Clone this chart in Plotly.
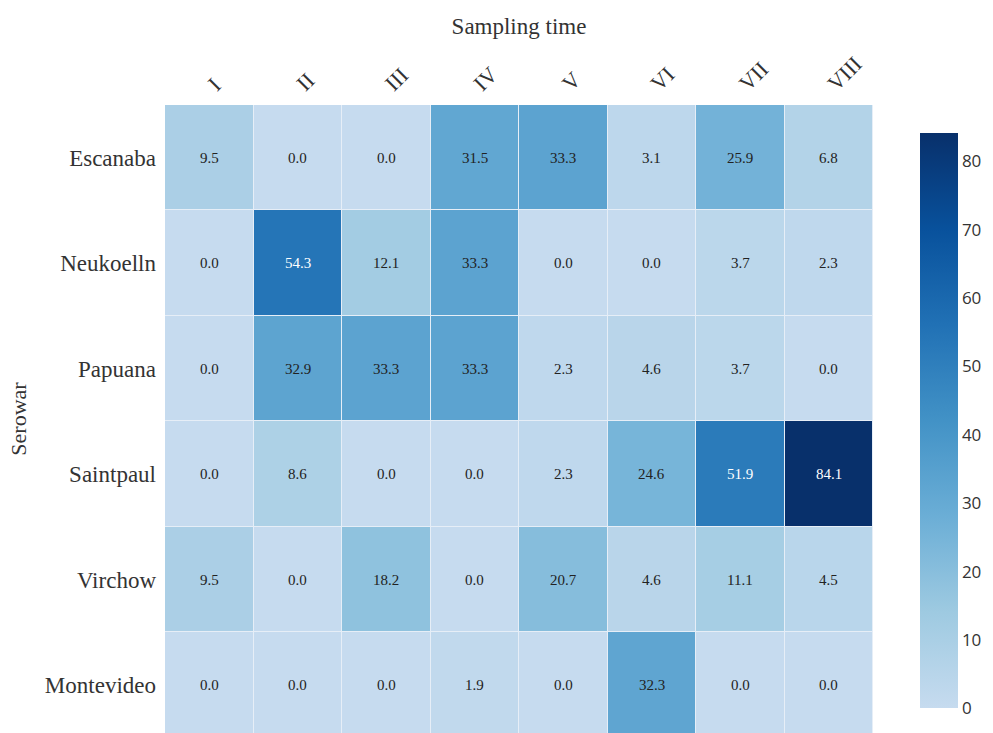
import plotly.graph_objects as go

# Sampling rounds and serovars
sampling_times = ["I", "II", "III", "IV", "V", "VI", "VII", "VIII"]
serovars = ["Escanaba", "Neukoelln", "Papuana", "Saintpaul", "Virchow", "Montevideo"]

# Percentage of isolates per serovar at each sampling time
escanaba = [9.5, 0.0, 0.0, 31.5, 33.3, 3.1, 25.9, 6.8]
neukoelln = [0.0, 54.3, 12.1, 33.3, 0.0, 0.0, 3.7, 2.3]
papuana = [0.0, 32.9, 33.3, 33.3, 2.3, 4.6, 3.7, 0.0]
saintpaul = [0.0, 8.6, 0.0, 0.0, 2.3, 24.6, 51.9, 84.1]
virchow = [9.5, 0.0, 18.2, 0.0, 20.7, 4.6, 11.1, 4.5]
montevideo = [0.0, 0.0, 0.0, 1.9, 0.0, 32.3, 0.0, 0.0]

z = [escanaba, neukoelln, papuana, saintpaul, virchow, montevideo]

blues = [
    [0.0, "#c6dbef"],
    [1 / 6, "#9ecae1"],
    [2 / 6, "#6baed6"],
    [3 / 6, "#4292c6"],
    [4 / 6, "#2171b5"],
    [5 / 6, "#08519c"],
    [1.0, "#08306b"],
]

zmax = max(max(row) for row in z)

fig = go.Figure(
    go.Heatmap(
        z=z,
        x=sampling_times,
        y=serovars,
        colorscale=blues,
        zmin=0,
        zmax=zmax,
        xgap=1,
        ygap=1,
        hoverongaps=False,
        colorbar=dict(
            thickness=38,
            len=0.947,
            lenmode="fraction",
            x=1.052,
            xanchor="left",
            y=0.497,
            yanchor="middle",
            outlinewidth=0,
            tickvals=[0, 10, 20, 30, 40, 50, 60, 70, 80],
            tickfont=dict(family="Open Sans", size=17, color="#333"),
            ticks="",
        ),
    )
)

# Value labels in each cell
annotations = []
for serovar, row in zip(serovars, z):
    for t, v in zip(sampling_times, row):
        annotations.append(
            dict(
                x=t,
                y=serovar,
                text=f"{v:.1f}",
                showarrow=False,
                font=dict(
                    family="Liberation Serif",
                    size=15,
                    color="white" if v > 45 else "#222",
                ),
            )
        )

fig.update_layout(
    width=993,
    height=733,
    margin=dict(l=165, r=120, t=105, b=0, autoexpand=False),
    paper_bgcolor="white",
    plot_bgcolor="#e6eef7",
    annotations=annotations,
    font=dict(family="Liberation Serif", color="#333"),
    xaxis=dict(
        side="top",
        tickangle=-45,
        tickfont=dict(family="Liberation Serif", size=22, color="#333"),
        ticklabelstandoff=4,
        title=dict(
            text="Sampling time",
            font=dict(family="Liberation Serif", size=23, color="#333"),
            standoff=10,
        ),
        showgrid=False,
        zeroline=False,
        ticks="",
    ),
    yaxis=dict(
        range=[5.453, -0.5],
        tickfont=dict(family="Liberation Serif", size=23, color="#333"),
        ticklabelstandoff=8,
        title=dict(
            text="Serowar",
            font=dict(family="Liberation Serif", size=22, color="#333"),
            standoff=12,
        ),
        showgrid=False,
        zeroline=False,
        ticks="",
    ),
)

fig.write_html("out.html")
